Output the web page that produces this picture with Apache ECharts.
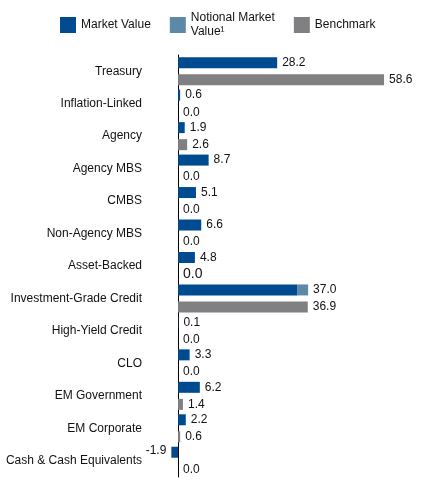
<!DOCTYPE html>
<html>
<head>
<meta charset="utf-8">
<script src="https://cdn.jsdelivr.net/npm/echarts@6/dist/echarts.min.js"></script>
<style>
  html, body { margin: 0; padding: 0; background: #fff; }
  #chart { width: 425px; height: 485px; }
</style>
</head>
<body>
<div id="chart"></div>
<script>
// 分类与数值
const categories = ['Treasury', 'Inflation-Linked', 'Agency', 'Agency MBS', 'CMBS', 'Non-Agency MBS',
    'Asset-Backed', 'Investment-Grade Credit', 'High-Yield Credit', 'CLO', 'EM Government',
    'EM Corporate', 'Cash & Cash Equivalents'];
const marketValue = [28.2, 0.6, 1.9, 8.7, 5.1, 6.6, 4.8, 34.0, 0.1, 3.3, 6.2, 2.2, -1.9];
const notionalValue = [0, 0, 0, 0, 0, 0, 0, 3.0, 0, 0, 0, 0, 0];
const mvLabels = ['28.2', '0.6', '1.9', '8.7', '5.1', '6.6', '4.8', '37.0', '0.1', '3.3', '6.2', '2.2', '-1.9'];
const benchmark = [58.6, 0.0, 2.6, 0.0, 0.0, 0.0, 0.0, 36.9, 0.0, 0.0, 1.4, 0.6, 0.0];

const MV_COLOR = '#004a8f';
const NOTIONAL_COLOR = '#5d88a6';
const BENCH_COLOR = '#808083';
const FONT = 'Liberation Sans';

const labelBase = { color: '#111', fontSize: 12, fontFamily: FONT, distance: 5 };

// 市场价值：有名义值的类别把标签放到堆叠末端
const mvData = marketValue.map((v, i) => {
    const hasNotional = notionalValue[i] !== 0;
    const item = { value: v, label: { show: !hasNotional, formatter: mvLabels[i] } };
    if (v < 0) {
        item.label.position = 'left';
        item.label.offset = [0, -2];
    }
    return item;
});

const notionalData = notionalValue.map((v, i) => ({
    value: v,
    label: { show: v !== 0, formatter: mvLabels[i] }
}));

const benchData = benchmark.map((v, i) => {
    const item = { value: v };
    // Asset-Backed 的 0.0 在原图里字号更大
    if (categories[i] === 'Asset-Backed') item.label = { fontSize: 14 };
    return item;
});

const chart = echarts.init(document.getElementById('chart'));

chart.setOption({
    animation: false,
    textStyle: { fontFamily: FONT },
    legend: {
        left: 60,
        top: 11,
        padding: 0,
        itemWidth: 16,
        itemHeight: 16,
        itemGap: 19,
        icon: 'rect',
        textStyle: { color: '#111', fontSize: 12, lineHeight: 14, fontFamily: FONT },
        data: ['Market Value', 'Notional Market\nValue¹', 'Benchmark']
    },
    grid: { left: 171, right: 29, top: 55, bottom: 8, outerBoundsMode: 'none', containLabel: false },
    xAxis: {
        type: 'value',
        min: -2,
        max: 62,
        show: false
    },
    yAxis: {
        type: 'category',
        data: categories,
        inverse: true,
        axisLine: { onZero: true, lineStyle: { color: '#000', width: 1 } },
        axisTick: { show: false },
        axisLabel: { color: '#111', fontSize: 12, margin: 29, fontFamily: FONT }
    },
    series: [
        {
            name: 'Market Value',
            type: 'bar',
            stack: 'mv',
            data: mvData,
            barWidth: 11,
            barGap: '55%',
            itemStyle: { color: MV_COLOR },
            label: Object.assign({ position: 'right' }, labelBase)
        },
        {
            name: 'Notional Market\nValue¹',
            type: 'bar',
            stack: 'mv',
            data: notionalData,
            barWidth: 11,
            itemStyle: { color: NOTIONAL_COLOR },
            label: Object.assign({ position: 'right' }, labelBase)
        },
        {
            name: 'Benchmark',
            type: 'bar',
            data: benchData,
            barWidth: 11,
            itemStyle: { color: BENCH_COLOR },
            label: Object.assign({ show: true, position: 'right', formatter: p => p.value.toFixed(1) }, labelBase)
        }
    ]
});
</script>
</body>
</html>
